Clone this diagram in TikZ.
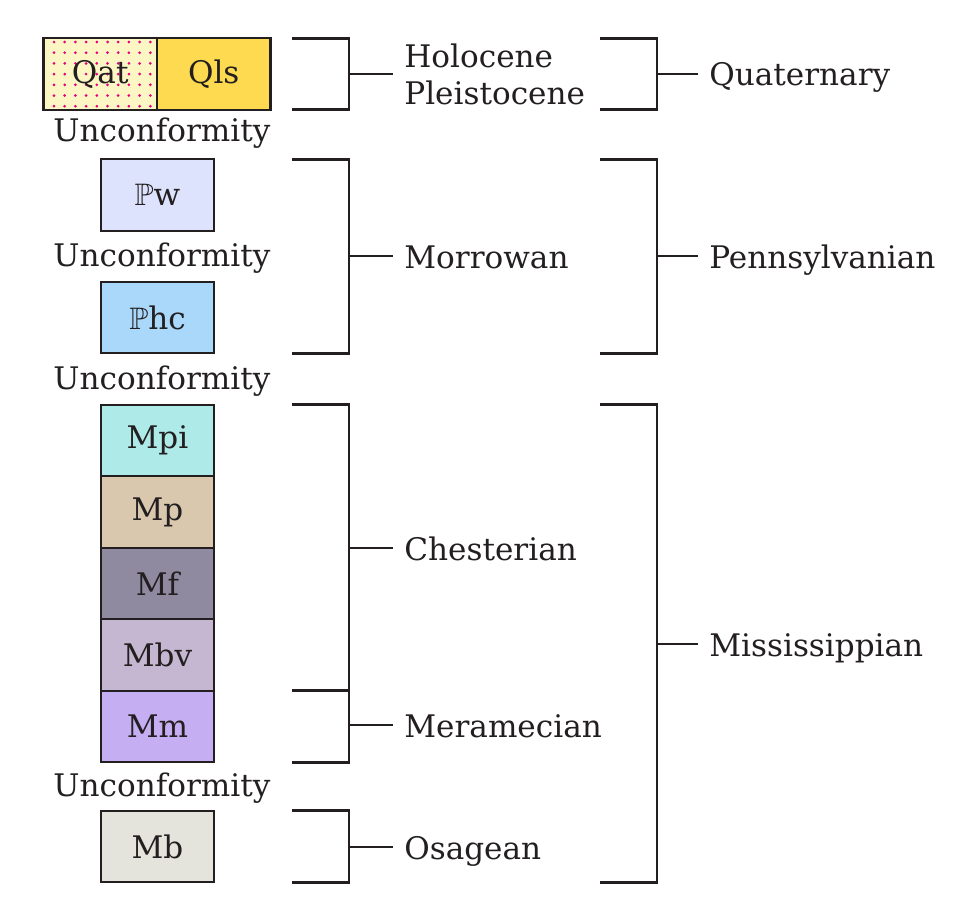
\documentclass[tikz,border=0pt]{standalone}
\usepackage{amssymb}
\usepackage{fontspec}
\setmainfont{DejaVu Serif}
\usetikzlibrary{positioning}

\definecolor{inkgrey}{HTML}{231F20}
\definecolor{qatfill}{HTML}{FBF6C4}
\definecolor{qatdots}{HTML}{E5007D}
\definecolor{qlsfill}{HTML}{FDDA50}
\definecolor{pwfill}{HTML}{DDE3FC}
\definecolor{phcfill}{HTML}{A9D8FA}
\definecolor{mpifill}{HTML}{AEEAE8}
\definecolor{mpfill}{HTML}{D9C8AE}
\definecolor{mffill}{HTML}{8F8A9F}
\definecolor{mbvfill}{HTML}{C5B7D1}
\definecolor{mmfill}{HTML}{C5AEF2}
\definecolor{mbfill}{HTML}{E4E3DC}

\newcommand{\unitwidth}{2.27cm}
\newcommand{\unitheight}{1.43cm}
\newcommand{\captop}{0.48cm}
\newcommand{\columnx}{157.5}
\newcommand{\leftendx}{292}
\newcommand{\leftbarx}{349}
\newcommand{\lefttickx}{393}
\newcommand{\rightendx}{600}
\newcommand{\rightbarx}{657}
\newcommand{\righttickx}{698}

\begin{document}
\begin{tikzpicture}[x=0.02cm,y=-0.02cm,font=\fontsize{17.7}{21}\selectfont,text=inkgrey]
\tikzstyle{unit}=[draw=inkgrey,line width=1.3pt,minimum width=\unitwidth,minimum height=\unitheight,inner sep=0pt,outer sep=0pt]
\tikzstyle{bracket}=[draw=inkgrey,line width=1.6pt]
\tikzstyle{agelabel}=[anchor=west,inner sep=0pt,inner xsep=0.22cm,text height=\captop,text depth=0pt]
\tikzstyle{gap}=[anchor=base]

\useasboundingbox (0,0) rectangle (966,899);

%% Quaternary units
\node (Qat) [unit, fill=qatfill, draw=none] at (100.25,74) {};
\begin{scope}
\clip (Qat.north west) rectangle (Qat.south east);
\foreach \i in {0,...,9}
  \foreach \j in {0,...,6}
    \fill[qatdots] (54+10.7*\i,42+10.7*\j) circle (0.03cm);
\end{scope}
\node (Qattext) [unit] at (Qat) {Qat};
\node (Qls) [unit, fill=qlsfill, right=0pt of Qattext] {Qls};

%% Pennsylvanian units
\node (Pw)  [unit, fill=pwfill]  at (\columnx,195)   {$\mathbb{P}$w};
\node (Phc) [unit, fill=phcfill] at (\columnx,317.5) {$\mathbb{P}$hc};

%% Mississippian units
\node (Mpi) [unit, fill=mpifill] at (\columnx,440.5) {Mpi};
\node (Mp)  [unit, fill=mpfill,  below=0pt of Mpi] {Mp};
\node (Mf)  [unit, fill=mffill,  below=0pt of Mp]  {Mf};
\node (Mbv) [unit, fill=mbvfill, below=0pt of Mf]  {Mbv};
\node (Mm)  [unit, fill=mmfill,  below=0pt of Mbv] {Mm};
\node (Mb)  [unit, fill=mbfill] at (\columnx,846.5) {Mb};

%% unconformities
\node (uncA) [gap] at (162,141) {Unconformity};
\node (uncB) [gap] at (162,266) {Unconformity};
\node (uncC) [gap] at (162,389) {Unconformity};
\node (uncD) [gap] at (162,796) {Unconformity};

%% bracket columns
\coordinate (lend) at (\leftendx,0);
\coordinate (lbar) at (\leftbarx,0);
\coordinate (rend) at (\rightendx,0);
\coordinate (rbar) at (\rightbarx,0);

%% epoch labels
\node (holo)    [anchor=west,inner sep=0pt,inner xsep=0.22cm,align=left] at (\lefttickx,74) {Holocene\\Pleistocene};
\node (morrow)  [agelabel] at (\lefttickx,256) {Morrowan};
\node (chester) [agelabel] at (\lefttickx,548) {Chesterian};
\node (meramec) [agelabel] at (\lefttickx,725) {Meramecian};
\node (osage)   [agelabel] at (\lefttickx,847) {Osagean};

%% period labels
\node (quat) [agelabel] at (\righttickx,74)  {Quaternary};
\node (penn) [agelabel] at (\righttickx,256) {Pennsylvanian};
\node (miss) [agelabel] at (\righttickx,644) {Mississippian};

%% epoch brackets
\draw[bracket] (lend |- Qls.north) -- (lbar |- Qls.north) -- (lbar |- Qls.south) -- (lend |- Qls.south);
\draw[bracket] (lbar |- holo.west) -- (holo.west);
\draw[bracket] (lend |- Pw.north) -- (lbar |- Pw.north) -- (lbar |- Phc.south) -- (lend |- Phc.south);
\draw[bracket] (lbar |- morrow.west) -- (morrow.west);
\draw[bracket] (lend |- Mpi.north) -- (lbar |- Mpi.north) -- (lbar |- Mbv.south) -- (lend |- Mbv.south);
\draw[bracket] (lbar |- chester.west) -- (chester.west);
\draw[bracket] (lend |- Mm.north) -- (lbar |- Mm.north) -- (lbar |- Mm.south) -- (lend |- Mm.south);
\draw[bracket] (lbar |- meramec.west) -- (meramec.west);
\draw[bracket] (lend |- Mb.north) -- (lbar |- Mb.north) -- (lbar |- Mb.south) -- (lend |- Mb.south);
\draw[bracket] (lbar |- osage.west) -- (osage.west);

%% period brackets
\draw[bracket] (rend |- Qls.north) -- (rbar |- Qls.north) -- (rbar |- Qls.south) -- (rend |- Qls.south);
\draw[bracket] (rbar |- quat.west) -- (quat.west);
\draw[bracket] (rend |- Pw.north) -- (rbar |- Pw.north) -- (rbar |- Phc.south) -- (rend |- Phc.south);
\draw[bracket] (rbar |- penn.west) -- (penn.west);
\draw[bracket] (rend |- Mpi.north) -- (rbar |- Mpi.north) -- (rbar |- Mb.south) -- (rend |- Mb.south);
\draw[bracket] (rbar |- miss.west) -- (miss.west);

\end{tikzpicture}
\end{document}
